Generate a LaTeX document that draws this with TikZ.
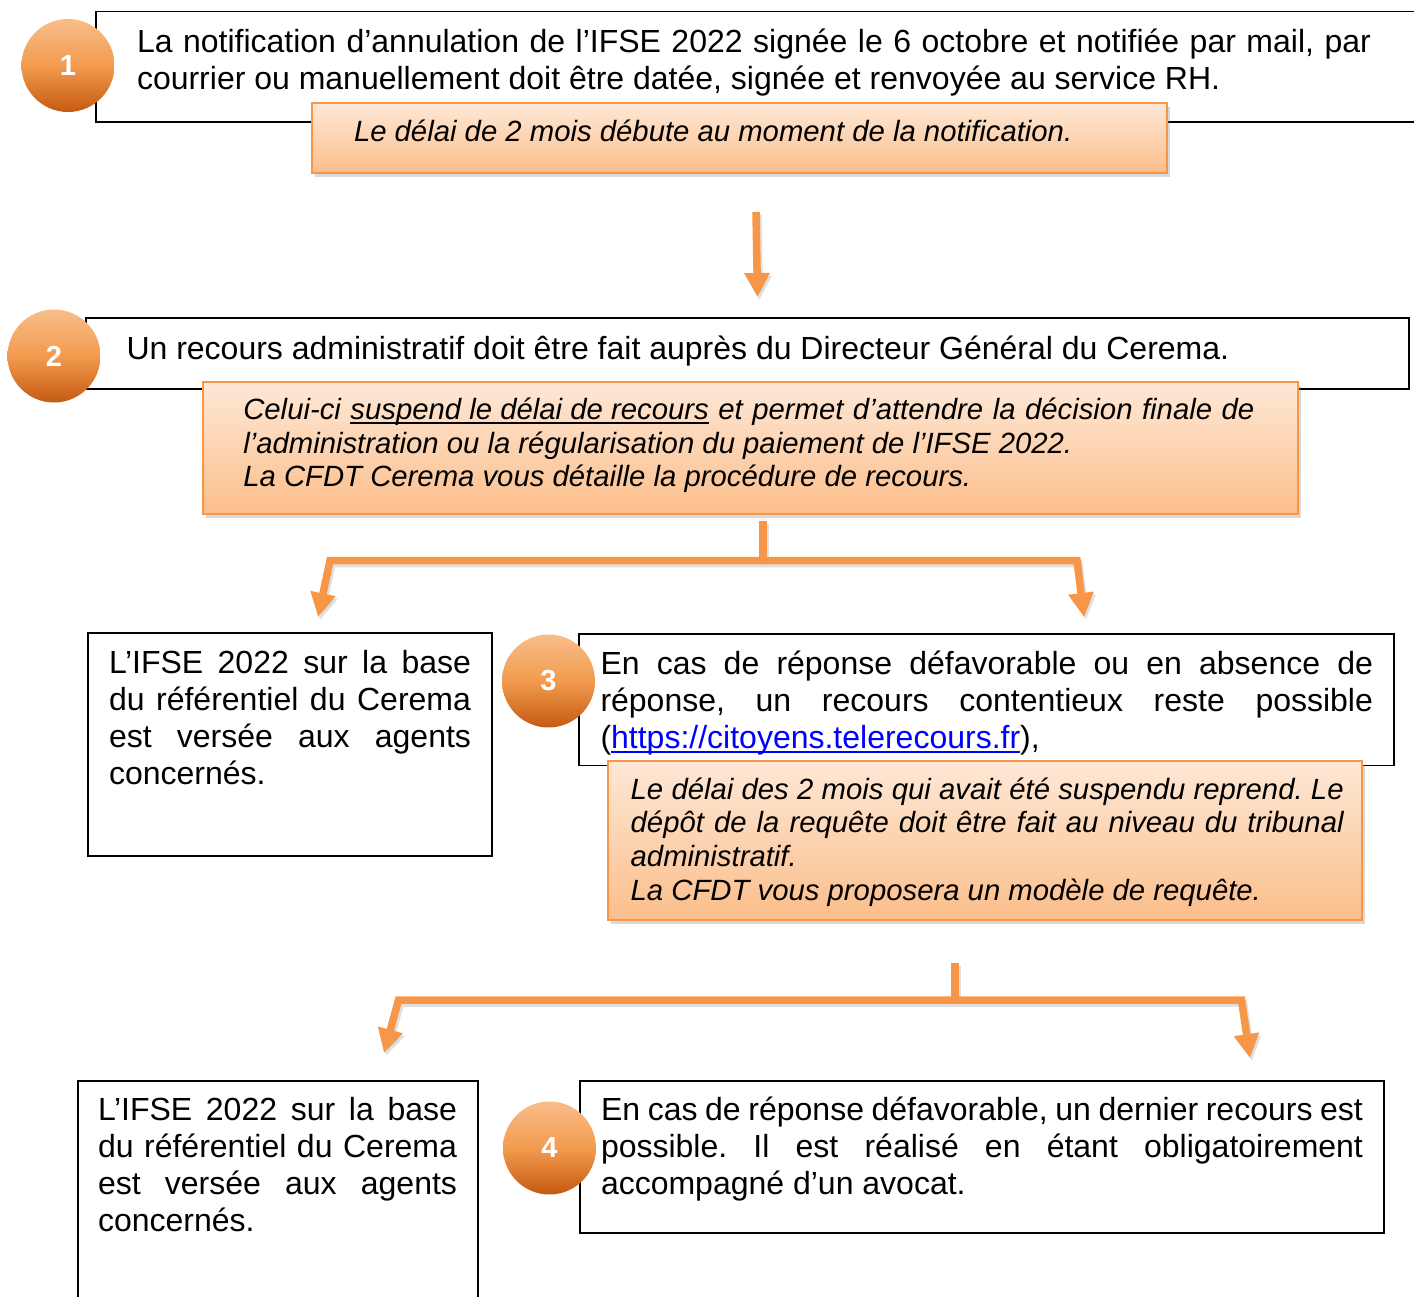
\documentclass[tikz,border=0pt]{standalone}
\usepackage{fontspec}
\setmainfont{Liberation Sans}
\usetikzlibrary{arrows.meta,shadows}
\definecolor{ocol}{HTML}{F79646}
\definecolor{otop}{HTML}{FEE8D6}
\definecolor{obot}{HTML}{FBBE8B}
\definecolor{ctop}{HTML}{F9BD8A}
\definecolor{cmid}{HTML}{F29B4E}
\definecolor{cbot}{HTML}{C55A11}
\definecolor{linkblue}{HTML}{0000FF}
\newcommand\nsp{\spaceskip=0pt\xspaceskip=0pt\frenchspacing}
\newcommand\jfy[1]{{\nsp\makebox[\linewidth][s]{#1}}}
\newcommand\myul[2][black]{\setbox0\hbox{{\color{#1}#2}}\rlap{{\color{#1}\rule[-4.5pt]{\wd0}{1.8pt}}}\box0\relax}
\begin{document}
\begin{tikzpicture}[x=1pt,y=-1pt,
  box/.style={draw=black,line width=1.8pt,fill=white,inner sep=0pt,outer sep=0pt},
  obox/.style={draw=ocol,line width=1.5pt,top color=otop,bottom color=obot,inner sep=0pt,outer sep=0pt,
     drop shadow={shadow xshift=3pt,shadow yshift=-4pt,opacity=0.3,fill=black!50}},
  numc/.style={circle,inner sep=0pt,minimum size=93pt,top color=ctop,bottom color=cbot,middle color=cmid,
     text=white,font=\fontsize{29}{29}\selectfont\bfseries},
  txt/.style={anchor=base west,inner sep=0pt,outer sep=0pt,align=flush left,font=\fontsize{32}{37}\selectfont},
  itxt/.style={txt,font=\fontsize{29.3}{33.7}\selectfont\itshape},
  arr/.style={draw=ocol,line width=7.5pt,line join=miter,-{Triangle[width=24pt,length=24pt]}},
  arrsh/.style={draw=black,opacity=0.12,line width=7.5pt,line join=miter,-{Triangle[width=24pt,length=24pt]},
     transform canvas={shift={(2pt,-3pt)}}},
  stub/.style={draw=ocol,line width=7.5pt},
  stubsh/.style={draw=black,opacity=0.12,line width=7.5pt,transform canvas={shift={(2pt,-3pt)}}}
]
\useasboundingbox (0,0) rectangle (1414,1297);

% ---------- step 1
\node[box,minimum width=1324pt,minimum height=110.5pt] (b1) at (758,66.75) {};
\node[obox,minimum width=855pt,minimum height=70pt] (o1) at (739.5,138) {};
\node[numc] (c1) at (68,65.5) {1};
\node[txt,text width=1234pt] (t1) at (137,52.5) {\nsp\jfy{La notification d’annulation de l’IFSE 2022 signée le 6 octobre et notifiée par mail, par}\\courrier ou manuellement doit être datée, signée et renvoyée au service RH.};
\node[itxt] (u1) at (354,141.7) {\nsp Le délai de 2 mois débute au moment de la notification.};

% ---------- arrow 1
\coordinate (a1s) at (756,212);
\coordinate (a1e) at (757.5,297);
\draw[arrsh] (a1s) -- (a1e);
\draw[arr] (a1s) -- (a1e);

% ---------- step 2
\node[box,minimum width=1323pt,minimum height=71pt] (b2) at (747.5,353.5) {};
\node[obox,minimum width=1095pt,minimum height=132pt] (o2) at (750.5,448) {};
\node[numc] (c2) at (54,356) {2};
\node[txt] (t2) at (126.5,359.3) {\nsp Un recours administratif doit être fait auprès du Directeur Général du Cerema.};
\node[itxt,text width=1011pt] (u2) at (243.3,419.3) {\nsp\jfy{Celui-ci \myul{suspend le délai de recours} et permet d’attendre la décision finale de}\\l’administration ou la régularisation du paiement de l’IFSE 2022.\\La CFDT Cerema vous détaille la procédure de recours.};

% ---------- branch 1
\coordinate (p1s) at (763,521);
\coordinate (p1j) at (763,560.5);
\coordinate (p1l) at (330,560.5);
\coordinate (p1lt) at (318,617);
\coordinate (p1r) at (1077,560.5);
\coordinate (p1rt) at (1084,617);
\draw[stubsh] (p1s) -- (p1j);
\draw[arrsh] (p1j) -- (p1l) -- (p1lt);
\draw[arrsh] (p1j) -- (p1r) -- (p1rt);
\draw[stub] (p1s) -- (p1j);
\draw[arr] (p1j) -- (p1l) -- (p1lt);
\draw[arr] (p1j) -- (p1r) -- (p1rt);

% ---------- left box (upper)
\node[box,minimum width=404pt,minimum height=223pt] (bl1) at (290,744.5) {};
\node[txt,text width=362pt] (tl1) at (109,673.5) {\nsp\jfy{L’IFSE 2022 sur la base}\\\jfy{du référentiel du Cerema}\\\jfy{est versée aux agents}\\concernés.};

% ---------- step 3
\node[box,minimum width=815pt,minimum height=131.5pt] (b3) at (986.5,699.75) {};
\node[obox,minimum width=754pt,minimum height=159pt] (o3) at (985,840.5) {};
\node[numc] (c3) at (548.5,681) {3};
\node[txt,text width=772.5pt] (t3) at (600.5,674.3) {\nsp\jfy{En cas de réponse défavorable ou en absence de}\\\jfy{réponse, un recours contentieux reste possible}\\(\myul[linkblue]{https://citoyens.telerecours.fr}),};
\node[itxt,text width=713pt] (u3) at (630.7,799) {\nsp\jfy{Le délai des 2 mois qui avait été suspendu reprend. Le}\\\jfy{dépôt de la requête doit être fait au niveau du tribunal}\\administratif.\\La CFDT vous proposera un modèle de requête.};

% ---------- branch 2
\coordinate (p2s) at (955,963);
\coordinate (p2j) at (955,1000);
\coordinate (p2l) at (398.5,1000);
\coordinate (p2lt) at (384,1053);
\coordinate (p2r) at (1241.5,1000);
\coordinate (p2rt) at (1250,1058);
\draw[stubsh] (p2s) -- (p2j);
\draw[arrsh] (p2j) -- (p2l) -- (p2lt);
\draw[arrsh] (p2j) -- (p2r) -- (p2rt);
\draw[stub] (p2s) -- (p2j);
\draw[arr] (p2j) -- (p2l) -- (p2lt);
\draw[arr] (p2j) -- (p2r) -- (p2rt);

% ---------- left box (lower)
\node[box,minimum width=400pt,minimum height=229pt] (bl2) at (278,1195.5) {};
\node[txt,text width=359pt] (tl2) at (98,1120.5) {\nsp\jfy{L’IFSE 2022 sur la base}\\\jfy{du référentiel du Cerema}\\\jfy{est versée aux agents}\\concernés.};

% ---------- step 4
\node[box,minimum width=804pt,minimum height=152pt] (b4) at (982,1157) {};
\node[numc] (c4) at (549.5,1148) {4};
\node[txt,text width=762pt] (t4) at (601,1120) {\nsp\jfy{En cas de réponse défavorable, un dernier recours est}\\\jfy{possible. Il est réalisé en étant obligatoirement}\\accompagné d’un avocat.};
\end{tikzpicture}
\end{document}
